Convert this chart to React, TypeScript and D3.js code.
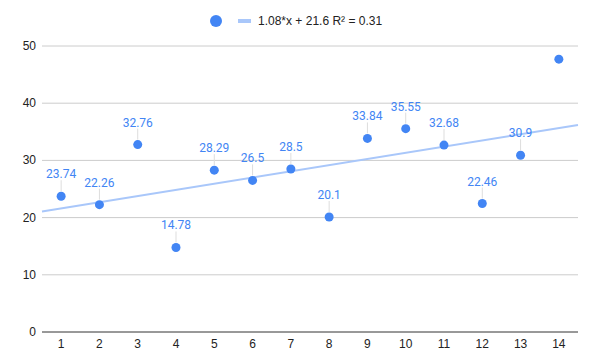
import React, {useEffect, useRef} from 'react';
import * as d3 from 'd3';

const categories = [1, 2, 3, 4, 5, 6, 7, 8, 9, 10, 11, 12, 13, 14];
const values = [23.74, 22.26, 32.76, 14.78, 28.29, 26.5, 28.5, 20.1, 33.84, 35.55, 32.68, 22.46, 30.9, 47.7];
const labels = ['23.74', '22.26', '32.76', '14.78', '28.29', '26.5', '28.5', '20.1', '33.84', '35.55', '32.68', '22.46', '30.9', ''];
const yTicks = [0, 10, 20, 30, 40, 50];
const trendSlope = 1.08;
const trendIntercept = 21.6;
const legendText = '1.08*x + 21.6 R\u00b2 = 0.31';

const W = 592;
const H = 362;

export default function App() {
  const svgRef = useRef<SVGSVGElement>(null);

  useEffect(() => {
    if (!svgRef.current) return;
    const svg = d3.select(svgRef.current);
    svg.selectAll('*').remove();

    const font = 'Roboto, Arial, sans-serif';
    const axisFont = '"Liberation Sans", Arial, sans-serif';
    const left = 42;
    const right = 578;
    const top = 46;
    const bottom = 332;

    const x = d3.scaleLinear().domain([0.5, 14.5]).range([left, right]);
    const y = d3.scaleLinear().domain([0, 50]).range([bottom, top]);

    svg.append('rect').attr('width', W).attr('height', H).attr('fill', '#fff');

    // Grid
    svg
      .append('g')
      .selectAll('line')
      .data(yTicks.filter((t) => t > 0))
      .join('line')
      .attr('x1', left)
      .attr('x2', right)
      .attr('y1', (d) => y(d))
      .attr('y2', (d) => y(d))
      .attr('stroke', '#cccccc')
      .attr('stroke-width', 1);

    // Y labels
    svg
      .append('g')
      .selectAll('text')
      .data(yTicks)
      .join('text')
      .attr('x', 36)
      .attr('y', (d) => y(d) + 4)
      .attr('text-anchor', 'end')
      .attr('font-family', axisFont)
      .attr('font-size', 12)
      .attr('fill', '#222')
      .text((d) => d);

    // Baseline
    svg
      .append('line')
      .attr('x1', left)
      .attr('x2', right)
      .attr('y1', y(0))
      .attr('y2', y(0))
      .attr('stroke', '#333')
      .attr('stroke-width', 1);

    // X labels
    svg
      .append('g')
      .selectAll('text')
      .data(categories)
      .join('text')
      .attr('x', (d) => x(d))
      .attr('y', 348)
      .attr('text-anchor', 'middle')
      .attr('font-family', axisFont)
      .attr('font-size', 12)
      .attr('fill', '#222')
      .text((d) => d);

    // Trendline (index-based, 0 for first category)
    const trend = (c: number) => trendSlope * (c - 1) + trendIntercept;
    svg
      .append('line')
      .attr('x1', x(0.5))
      .attr('x2', x(14.5))
      .attr('y1', y(trend(0.5)))
      .attr('y2', y(trend(14.5)))
      .attr('stroke', '#a9c7fa')
      .attr('stroke-width', 2);

    const pts = categories.map((c, i) => ({c, v: values[i], label: labels[i]}));

    // Leader lines
    svg
      .append('g')
      .selectAll('line')
      .data(pts.filter((p) => p.label))
      .join('line')
      .attr('x1', (d) => x(d.c))
      .attr('x2', (d) => x(d.c))
      .attr('y1', (d) => y(d.v) - 16)
      .attr('y2', (d) => y(d.v) - 5)
      .attr('stroke', '#dddddd')
      .attr('stroke-width', 1);

    // Points
    svg
      .append('g')
      .selectAll('circle')
      .data(pts)
      .join('circle')
      .attr('cx', (d) => x(d.c))
      .attr('cy', (d) => y(d.v))
      .attr('r', 4.5)
      .attr('fill', '#4285f4');

    // Data labels
    svg
      .append('g')
      .selectAll('text')
      .data(pts.filter((p) => p.label))
      .join('text')
      .attr('x', (d) => x(d.c))
      .attr('y', (d) => y(d.v) - 18)
      .attr('text-anchor', 'middle')
      .attr('font-family', font)
      .attr('font-size', 12)
      .attr('fill', '#4285f4')
      .text((d) => d.label);

    // Legend
    const lg = svg.append('g');
    lg.append('circle').attr('cx', 216).attr('cy', 21).attr('r', 6).attr('fill', '#4285f4');
    lg.append('line')
      .attr('x1', 238)
      .attr('x2', 251)
      .attr('y1', 21)
      .attr('y2', 21)
      .attr('stroke', '#a9c7fa')
      .attr('stroke-width', 4);
    lg.append('text')
      .attr('x', 258)
      .attr('y', 25)
      .attr('font-family', axisFont)
      .attr('font-size', 12)
      .attr('fill', '#222')
      .text(legendText);
  }, []);

  return (
    <div style={{position: 'absolute', left: 0, top: 0}}>
      <svg ref={svgRef} width={W} height={H} style={{display: 'block'}} />
    </div>
  );
}
